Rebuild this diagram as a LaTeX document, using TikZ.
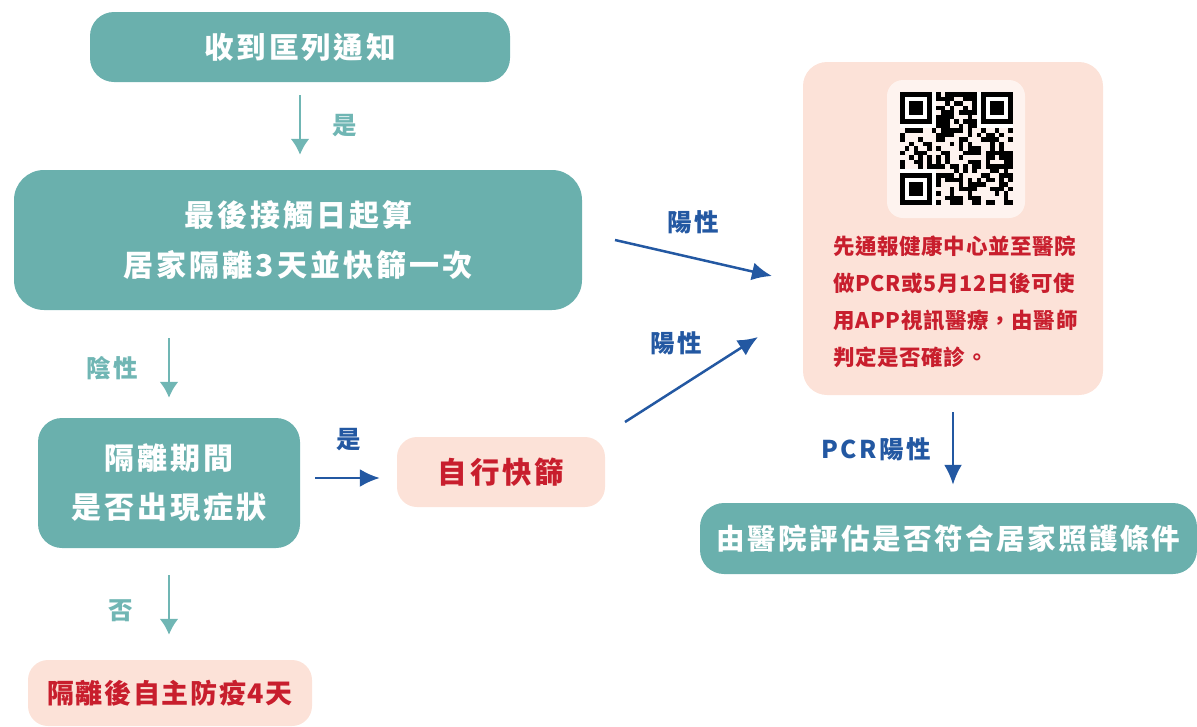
\documentclass[tikz,border=0pt]{standalone}
\usepackage{fontspec}
\setmainfont{Noto Sans CJK TC}
\usetikzlibrary{arrows.meta}

\definecolor{boxteal}{RGB}{106,176,173}
\definecolor{arrowteal}{RGB}{112,182,180}
\definecolor{boxpink}{RGB}{252,226,216}
\definecolor{qrback}{RGB}{254,243,239}
\definecolor{textred}{RGB}{200,30,45}
\definecolor{flowblue}{RGB}{35,88,162}

% font size, leading, tracking
\newcommand\boxfont[3]{\bfseries\fontsize{#1}{#2}\selectfont\addfontfeatures{LetterSpace=#3}}

\tikzset{
  tealbox/.style={fill=boxteal, rounded corners=24pt, text=white, align=center,
    inner sep=0pt, font=\boxfont{30}{49}{10}},
  pinkbox/.style={fill=boxpink, rounded corners=20pt, text=textred, align=center,
    inner sep=0pt, font=\boxfont{29}{30}{10}},
  tealarrow/.style={draw=arrowteal, line width=2.5pt, -{Latex[length=16pt,width=19pt]}},
  bluearrow/.style={draw=flowblue, line width=2.5pt, -{Latex[length=20pt,width=18pt]}},
  lbl/.style={inner sep=0pt, font=\boxfont{24.5}{25}{10}}
}

\begin{document}
\begin{tikzpicture}[x=1pt, y=-1pt]
  \useasboundingbox (0,0) rectangle (1197,726);

  % left column
  \node[tealbox, minimum width=420pt, minimum height=70pt, font=\boxfont{29.5}{30}{10}]
    (recv) at (300,47) {收到匡列通知};
  \node[tealbox, rounded corners=30pt, minimum width=568pt, minimum height=140pt, font=\boxfont{30}{50}{10}]
    (start) at (298,240) {最後接觸日起算\\居家隔離3天並快篩一次};
  \node[tealbox, minimum width=262pt, minimum height=130pt]
    (sympt) at (169,483) {隔離期間\\是否出現症狀};
  \node[pinkbox, minimum width=284pt, minimum height=66pt, font=\boxfont{27}{28}{6}]
    (quar) at (170,693) {隔離後自主防疫4天};
  \node[pinkbox, minimum width=208pt, minimum height=70pt, font=\boxfont{29.5}{30}{10}]
    (rapid) at (501,472) {自行快篩};

  % right column
  \node[fill=boxpink, rounded corners=24pt, minimum width=300pt, minimum height=333pt] (report) at (953,228.5) {};
  \node[fill=qrback, rounded corners=16pt, minimum width=138pt, minimum height=138pt] (qr) at (956,149) {};
  \node[text=textred, align=left, inner sep=0pt, anchor=west, font=\boxfont{21.5}{37}{3}] (rtext) at (833,302)
    {先通報健康中心並至醫院\\做PCR或5月12日後可使\\用APP視訊醫療，由醫師\\判定是否確診。};
  \node[tealbox, minimum width=497pt, minimum height=71pt, font=\boxfont{28.5}{29}{9}]
    (final) at (948.5,538.5) {由醫院評估是否符合居家照護條件};

  % qr code
  \pgfmathsetseed{11}
  \foreach \i in {0,...,24}{
    \foreach \j in {0,...,24}{
      \pgfmathsetmacro\r{rnd}
      \ifdim\r pt>0.45pt
        \fill[black] (900+\i*4.52,92+\j*4.52) rectangle ++(4.52,4.52);
      \fi
    }
  }
  \foreach \a/\b in {0/0,17/0,0/17}{
    \fill[white] (900+\a*4.52,92+\b*4.52) rectangle ++(8*4.52,8*4.52);
    \fill[black] (900+\a*4.52+\a/17*4.52,92+\b*4.52+\b/17*4.52) rectangle ++(7*4.52,7*4.52);
    \fill[white] (900+\a*4.52+\a/17*4.52+4.52,92+\b*4.52+\b/17*4.52+4.52) rectangle ++(5*4.52,5*4.52);
    \fill[black] (900+\a*4.52+\a/17*4.52+9.04,92+\b*4.52+\b/17*4.52+9.04) rectangle ++(3*4.52,3*4.52);
  }

  % connectors
  \coordinate (up1) at (615,240);
  \coordinate (up2) at (772,276);
  \coordinate (lo1) at (625,422);
  \coordinate (lo2) at (758,337);

  \draw[tealarrow, shorten <=13pt, shorten >=15pt] (recv.south) to
    node[lbl, text=arrowteal, xshift=45pt] (yes1) {是} (recv.south |- start.north);
  \draw[tealarrow, shorten <=28pt, shorten >=20pt] (start.south -| sympt.north) to
    node[lbl, text=arrowteal, xshift=-57pt, yshift=-4pt] (neg) {陰性} (sympt.north);
  \draw[tealarrow, shorten <=27pt, shorten >=25pt] (sympt.south) to
    node[lbl, text=arrowteal, xshift=-48pt, yshift=-7pt] (no) {否} (sympt.south |- quar.north);
  \draw[bluearrow, shorten <=15pt, shorten >=17pt] ([yshift=5pt]sympt.east) to
    node[lbl, text=flowblue, yshift=38pt] (yes2) {是} ([yshift=5pt]sympt.east -| rapid.west);
  \draw[bluearrow] (up1) to node[lbl, text=flowblue, yshift=36pt] (pos1) {陽性} (up2);
  \draw[bluearrow] (lo1) to node[lbl, text=flowblue, xshift=-15pt, yshift=36pt] (pos2) {陽性} (lo2);
  \draw[bluearrow, shorten <=17pt, shorten >=18pt] (report.south) to
    node[lbl, text=flowblue, xshift=-77pt] (pcr) {PCR陽性} (report.south |- final.north);
\end{tikzpicture}
\end{document}
